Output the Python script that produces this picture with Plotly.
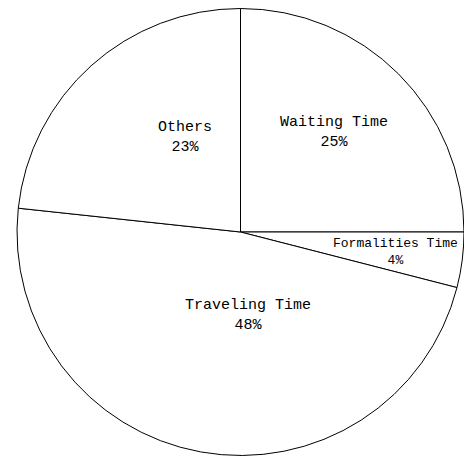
import math
import plotly.graph_objects as go

labels = ["Waiting Time", "Formalities Time", "Traveling Time", "Others"]
values = [25.0, 4.0, 47.7, 23.3]

# label placement inside each slice: radial fraction of the radius,
# angular shift (deg) from the slice mid-angle, and font size
label_radius = [0.61, 0.70, 0.377, 0.492]
label_shift = [-1.9, 0.3, -15.4, 11.6]
label_size = [15, 13, 15, 15]

W, H = 464, 458
M_L, M_R, M_T, M_B = 17, 0, 7, 1

fig = go.Figure(
    go.Pie(
        labels=labels,
        values=values,
        sort=False,
        direction="clockwise",
        rotation=0,
        marker=dict(colors=["white"] * len(labels), line=dict(color="black", width=1)),
        textinfo="none",
        showlegend=False,
        hoverinfo="skip",
    )
)

# pie geometry in paper coordinates
plot_w = W - M_L - M_R
plot_h = H - M_T - M_B
radius_px = min(plot_w, plot_h) / 2
total = sum(values)
start = 0.0
for lab, val, rf, sh, fs in zip(labels, values, label_radius, label_shift, label_size):
    span = val / total * 360.0
    theta = math.radians(start + span / 2 + sh)
    start += span
    dx = rf * radius_px * math.sin(theta)
    dy = rf * radius_px * math.cos(theta)
    fig.add_annotation(
        x=0.5 + dx / plot_w,
        y=0.5 + dy / plot_h,
        xref="paper",
        yref="paper",
        text=f"{lab}<br>{round(val / total * 100)}%",
        showarrow=False,
        xanchor="center",
        yanchor="middle",
        align="center",
        font=dict(family="Liberation Mono", size=fs, color="black"),
    )

fig.update_layout(
    width=W,
    height=H,
    margin=dict(l=M_L, r=M_R, t=M_T, b=M_B),
    paper_bgcolor="white",
    plot_bgcolor="white",
)

fig.write_html("out.html")
